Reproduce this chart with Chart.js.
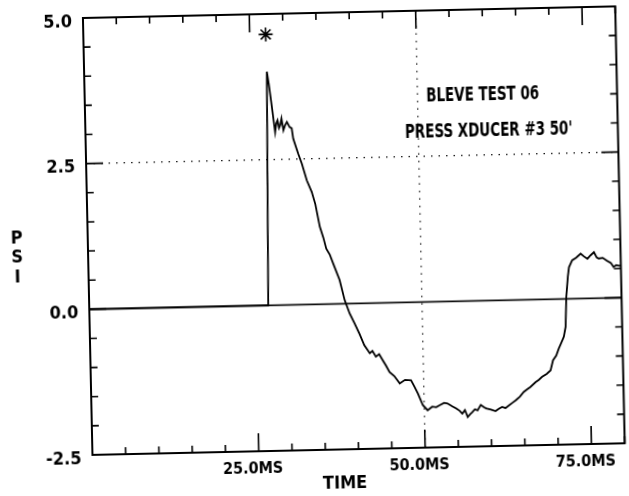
<!DOCTYPE html>
<html>
<head>
<meta charset="utf-8">
<title>BLEVE Test 06</title>
<script src="https://cdn.jsdelivr.net/npm/chart.js@4.4.0/dist/chart.umd.min.js"></script>
<style>
    html, body { margin: 0; padding: 0; background: #fff; overflow: hidden; }
    #wrap { width: 629px; height: 496px; transform: rotate(-1.25deg); transform-origin: 50% 50%; }
</style>
</head>
<body>
<div id="wrap"><canvas id="pressure-chart" width="629" height="496"></canvas></div>
<script>
// trace (time in ms, pressure in psi)
const timeMs = [0, 26.9, 27.45, 27.7, 28.0, 28.2, 28.5, 28.7, 28.9, 29.1, 29.3, 29.5, 29.75, 30.0,
    30.3, 30.7, 31.0, 31.2, 31.9, 32.4, 33.1, 33.8, 34.3, 34.9, 35.4, 35.8, 36.3, 36.8, 37.7, 38.4,
    39.1, 39.8, 40.5, 41.2, 42.0, 42.4, 42.9, 43.4, 43.9, 44.4, 44.9, 45.6, 46.4, 47.2, 48.1, 48.6,
    49.1, 49.8, 50.5, 51.2, 51.8, 52.3, 53.0, 53.5, 54.2, 54.8, 55.3, 55.7, 56.1, 56.5, 56.9, 57.2,
    57.6, 58.0, 58.5, 59.0, 59.3, 60.0, 60.7, 61.2, 61.7, 62.2, 62.7, 63.3, 63.8, 64.4, 65.0, 65.5,
    66.0, 66.8, 67.3, 67.8, 68.5, 69.1, 69.5, 70.0, 70.4, 70.8, 71.2, 71.5, 71.7, 72.0, 72.2, 72.7,
    73.3, 74.0, 74.5, 75.0, 75.5, 76.0, 76.4, 76.7, 77.3, 77.9, 78.5, 78.9, 79.3, 79.7, 80];
const psi = [0, 0, 4.01, 3.8, 3.5, 3.29, 2.97, 3.12, 3.17, 3.04, 3.09, 3.2, 3.0, 3.08,
    3.14, 3.05, 3.03, 2.85, 2.59, 2.42, 2.13, 1.93, 1.72, 1.33, 1.14, 0.95, 0.85, 0.69, 0.41, 0.06,
    -0.17, -0.34, -0.52, -0.72, -0.86, -0.82, -0.92, -0.88, -0.98, -1.08, -1.19, -1.26, -1.39, -1.33, -1.34, -1.45,
    -1.57, -1.77, -1.86, -1.8, -1.81, -1.78, -1.74, -1.75, -1.8, -1.84, -1.88, -1.93, -1.87, -1.99, -1.94, -1.91,
    -1.86, -1.88, -1.79, -1.83, -1.85, -1.87, -1.90, -1.86, -1.83, -1.85, -1.81, -1.76, -1.72, -1.66, -1.58, -1.54,
    -1.50, -1.42, -1.38, -1.33, -1.28, -1.22, -1.05, -0.97, -0.85, -0.75, -0.65, -0.48, 0.03, 0.38, 0.54, 0.66,
    0.7, 0.77, 0.72, 0.68, 0.74, 0.79, 0.7, 0.68, 0.69, 0.64, 0.6, 0.53, 0.56, 0.55, 0.55];

const markerTime = [27.4];
const markerPsi = [4.65];

const xMajorTicks = [25, 50, 75];
const yMajorTicks = [-2.5, 0, 2.5, 5];
const dottedX = [50];
const dottedY = [2.5];

const titleLines = ['BLEVE TEST 06', "PRESS XDUCER #3 50'"];
const titleTime = [59.8, 60.6];
const titlePsi = [3.53, 2.9];

const plotFont = "'Liberation Sans Narrow', 'DejaVu Sans Condensed', 'Liberation Sans', sans-serif";

function isMajor(list, v) {
    return list.some(m => Math.abs(m - v) < 1e-6);
}

// frame, inward ticks, zero line and dotted reference lines like the old plotter output
const plotterFrame = {
    id: 'plotterFrame',
    beforeDatasetsDraw(chart) {
        const ctx = chart.ctx;
        const a = chart.chartArea;
        const xs = chart.scales.x, ys = chart.scales.y;
        ctx.save();
        ctx.strokeStyle = '#111';
        ctx.lineWidth = 1.2;
        ctx.setLineDash([1.5, 6]);
        dottedX.forEach(v => {
            const px = xs.getPixelForValue(v);
            ctx.beginPath(); ctx.moveTo(px, a.top); ctx.lineTo(px, a.bottom); ctx.stroke();
        });
        dottedY.forEach(v => {
            const py = ys.getPixelForValue(v);
            ctx.beginPath(); ctx.moveTo(a.left, py); ctx.lineTo(a.right, py); ctx.stroke();
        });
        ctx.setLineDash([]);
        ctx.lineWidth = 1.6;
        const zy = ys.getPixelForValue(0);
        ctx.beginPath(); ctx.moveTo(a.left, zy); ctx.lineTo(a.right, zy); ctx.stroke();
        ctx.restore();
    },
    afterDatasetsDraw(chart) {
        const ctx = chart.ctx;
        const a = chart.chartArea;
        const xs = chart.scales.x, ys = chart.scales.y;
        ctx.save();
        ctx.strokeStyle = '#000';
        ctx.lineWidth = 2;
        ctx.strokeRect(a.left, a.top, a.right - a.left, a.bottom - a.top);
        ctx.lineWidth = 1.6;
        xs.ticks.forEach(t => {
            const px = xs.getPixelForValue(t.value);
            const len = isMajor(xMajorTicks, t.value) ? 18 : 7;
            ctx.beginPath();
            ctx.moveTo(px, a.bottom); ctx.lineTo(px, a.bottom - len);
            ctx.moveTo(px, a.top); ctx.lineTo(px, a.top + len);
            ctx.stroke();
        });
        ys.ticks.forEach(t => {
            const py = ys.getPixelForValue(t.value);
            const len = isMajor(yMajorTicks, t.value) ? 17 : 7;
            ctx.beginPath();
            ctx.moveTo(a.left, py); ctx.lineTo(a.left + len, py);
            ctx.moveTo(a.right, py); ctx.lineTo(a.right - len, py);
            ctx.stroke();
        });
        ctx.restore();
    },
    afterDraw(chart) {
        const ctx = chart.ctx;
        const xs = chart.scales.x, ys = chart.scales.y;
        ctx.save();
        ctx.fillStyle = '#000';
        ctx.textAlign = 'center';
        ctx.textBaseline = 'middle';
        ctx.font = 'bold 17px ' + plotFont;
        titleLines.forEach((line, i) => {
            // plotter lettering is taller and narrower than the screen font
            ctx.save();
            ctx.translate(xs.getPixelForValue(titleTime[i]), ys.getPixelForValue(titlePsi[i]));
            ctx.scale(0.88, 1.1);
            ctx.fillText(line, 0, 0);
            ctx.restore();
        });
        ctx.font = 'bold 18px ' + plotFont;
        ctx.fillText('TIME', 340, 484);
        ['P', 'S', 'I'].forEach((ch, i) => ctx.fillText(ch, 17, 232 + i * 19.5));
        ctx.restore();
    }
};

document.addEventListener('DOMContentLoaded', function () {
    const ctx = document.getElementById('pressure-chart').getContext('2d');
    new Chart(ctx, {
        type: 'line',
        data: {
            datasets: [{
                data: timeMs.map((t, i) => ({ x: t, y: psi[i] })),
                borderColor: '#000',
                borderWidth: 1.8,
                pointRadius: 0,
                tension: 0,
                fill: false
            }, {
                data: markerTime.map((t, i) => ({ x: t, y: markerPsi[i] })),
                showLine: false,
                pointStyle: 'star',
                pointRadius: 7,
                borderColor: '#000',
                borderWidth: 1.6
            }]
        },
        options: {
            responsive: false,
            devicePixelRatio: 1,
            animation: false,
            layout: { padding: { top: 13, right: 7, left: 0, bottom: 0 } },
            plugins: { legend: { display: false }, tooltip: { enabled: false } },
            scales: {
                x: {
                    type: 'linear',
                    min: 0,
                    max: 80,
                    afterFit(scale) {
                        scale.height = 46;
                        scale.paddingLeft = 0;
                        scale.paddingRight = 0;
                    },
                    grid: { display: false, drawTicks: false },
                    border: { display: false },
                    ticks: {
                        stepSize: 5,
                        autoSkip: false,
                        maxRotation: 0,
                        padding: 8,
                        labelOffset: -6,
                        color: '#000',
                        font: { family: plotFont, size: 16, weight: 'bold' },
                        callback: v => isMajor(xMajorTicks, v) ? v.toFixed(1) + 'MS' : ''
                    }
                },
                y: {
                    min: -2.5,
                    max: 5,
                    afterFit(scale) {
                        scale.width = 88;
                        scale.paddingTop = 0;
                        scale.paddingBottom = 0;
                    },
                    grid: { display: false, drawTicks: false },
                    border: { display: false },
                    ticks: {
                        stepSize: 0.5,
                        autoSkip: false,
                        padding: 11,
                        labelOffset: 4,
                        color: '#000',
                        font: { family: plotFont, size: 18, weight: 'bold' },
                        callback: v => isMajor(yMajorTicks, v) ? v.toFixed(1) : ''
                    }
                }
            }
        },
        plugins: [plotterFrame]
    });
});
</script>
</body>
</html>
